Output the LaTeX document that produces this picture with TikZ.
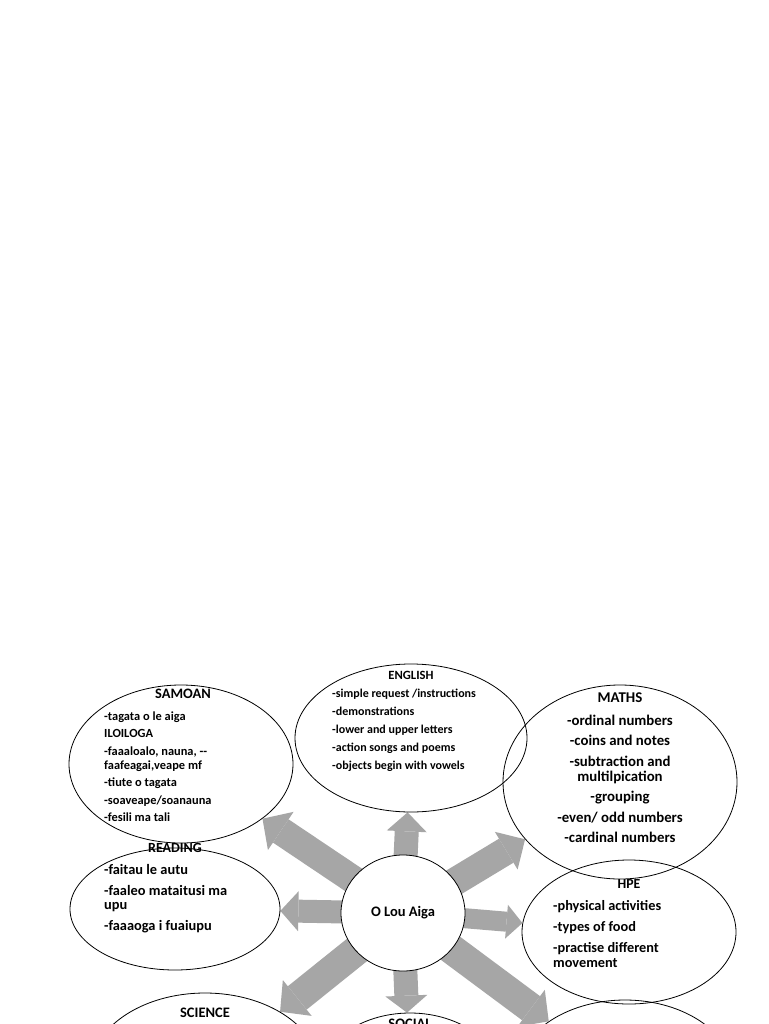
\documentclass[tikz,border=0pt]{standalone}
\usepackage{fontspec}
\setmainfont{Carlito}
\usetikzlibrary{shapes.geometric,arrows.meta}
\pgfdeclarelayer{background}
\pgfsetlayers{background,main}
\definecolor{arrowgray}{HTML}{A6A6A6}
\begin{document}
\begin{tikzpicture}[x=1pt,y=-1pt,
  bubble/.style={ellipse,draw=black,line width=0.8pt,inner sep=0pt},
  hub/.style={ellipse,draw=black,line width=0.8pt,fill=white,inner sep=0pt,minimum width=124pt,minimum height=116pt},
  ttl/.style={inner sep=0pt},
  body/.style={anchor=north west,inner sep=0pt,align=left},
  blockarrow/.style n args={3}{draw=arrowgray,line width=#1,-{Triangle[width=#2,length=#3,line width=0pt]}}
]
\useasboundingbox (0,0) rectangle (768,1024);
\clip (0,0) rectangle (768,1024);

% ellipses
\node[bubble,minimum width=224pt,minimum height=158pt] (samoanE) at (181,764) {};
\node[bubble,minimum width=232pt,minimum height=148pt] (englishE) at (411,738) {};
\node[bubble,minimum width=234pt,minimum height=194pt] (mathsE) at (620,782) {};
\node[bubble,minimum width=210pt,minimum height=122pt] (readingE) at (175,909) {};
\node[bubble,minimum width=214pt,minimum height=144pt] (hpeE) at (629,932) {};
\node[bubble,minimum width=230pt,minimum height=158pt] (scienceE) at (205,1072) {};
\node[bubble,minimum width=190pt,minimum height=146pt] (socialE) at (410,1086) {};
\node[bubble,minimum width=220pt,minimum height=156pt] (lowerE) at (625,1078) {};
\node[hub,font=\bfseries\fontsize{14.5}{16}\selectfont] (hub) at (403,913) {O Lou Aiga};

% arrows (behind the hub)
\begin{pgfonlayer}{background}
\fill[white] (0,0) rectangle (768,1024);
\draw[blockarrow={24pt}{40pt}{19pt}] (hub.center) -- (englishE);
\draw[blockarrow={28pt}{46pt}{22pt}] (hub.center) -- (samoanE);
\draw[blockarrow={28pt}{44pt}{22pt}] (hub.center) -- (mathsE);
\draw[blockarrow={23pt}{40pt}{18pt}] (hub.center) -- (readingE);
\draw[blockarrow={20pt}{34pt}{16pt}] (hub.center) -- (hpeE);
\draw[blockarrow={30pt}{46pt}{22pt}] (hub.center) -- (scienceE);
\draw[blockarrow={24pt}{42pt}{17pt}] (hub.center) -- (socialE);
\draw[blockarrow={30pt}{46pt}{22pt}] (hub.center) -- (lowerE);
\end{pgfonlayer}

% SAMOAN
\node[ttl,font=\bfseries\fontsize{14.4}{16}\selectfont] (samoanT) at (183,694) {SAMOAN};
\node[body,font=\bfseries\fontsize{12.4}{14}\selectfont] (samoanB) at (104,711.3) {-tagata o le aiga\\[3.5pt]
ILOILOGA\\[3.5pt]
-faaaloalo, nauna, -{}-\\
faafeagai,veape mf\\[3.5pt]
-tiute o tagata\\[3.5pt]
-soaveape/soanauna\\[3.5pt]
-fesili ma tali};

% ENGLISH
\node[ttl,font=\bfseries\fontsize{12.6}{14}\selectfont] (englishT) at (411,675) {ENGLISH};
\node[body,font=\bfseries\fontsize{12}{18}\selectfont] (englishB) at (332,688.4) {-simple request /instructions\\
-demonstrations\\
-lower and upper letters\\
-action songs and poems\\
-objects begin with vowels};

% MATHS
\node[ttl,font=\bfseries\fontsize{14.9}{16}\selectfont] (mathsT) at (620,698) {MATHS};
\node[anchor=north,inner sep=0pt,align=center,font=\bfseries\fontsize{14.8}{15}\selectfont] (mathsB) at (620,714.6) {-ordinal numbers\\[5.5pt]
-coins and notes\\[5.5pt]
-subtraction and\\
multilpication\\[5.5pt]
-grouping\\[5.5pt]
-even/ odd numbers\\[5.5pt]
-cardinal numbers};

% READING
\node[ttl,font=\bfseries\fontsize{14}{16}\selectfont] (readingT) at (175,848) {READING};
\node[body,font=\bfseries\fontsize{14.4}{14}\selectfont] (readingB) at (104,863.7) {-faitau le autu\\[7pt]
-faaleo mataitusi ma\\
upu\\[7pt]
-faaaoga i fuaiupu};

% HPE
\node[ttl,font=\bfseries\fontsize{13.8}{15}\selectfont] (hpeT) at (629,884) {HPE};
\node[body,font=\bfseries\fontsize{14.3}{15}\selectfont] (hpeB) at (553,900.7) {-physical activities\\[6pt]
-types of food\\[6pt]
-practise different\\
movement};

% SCIENCE / SOCIAL
\node[ttl,font=\bfseries\fontsize{14.5}{16}\selectfont] (scienceT) at (205,1013) {SCIENCE};
\node[ttl,font=\bfseries\fontsize{14.5}{16}\selectfont] (socialT) at (410,1024) {SOCIAL};
\end{tikzpicture}
\end{document}
